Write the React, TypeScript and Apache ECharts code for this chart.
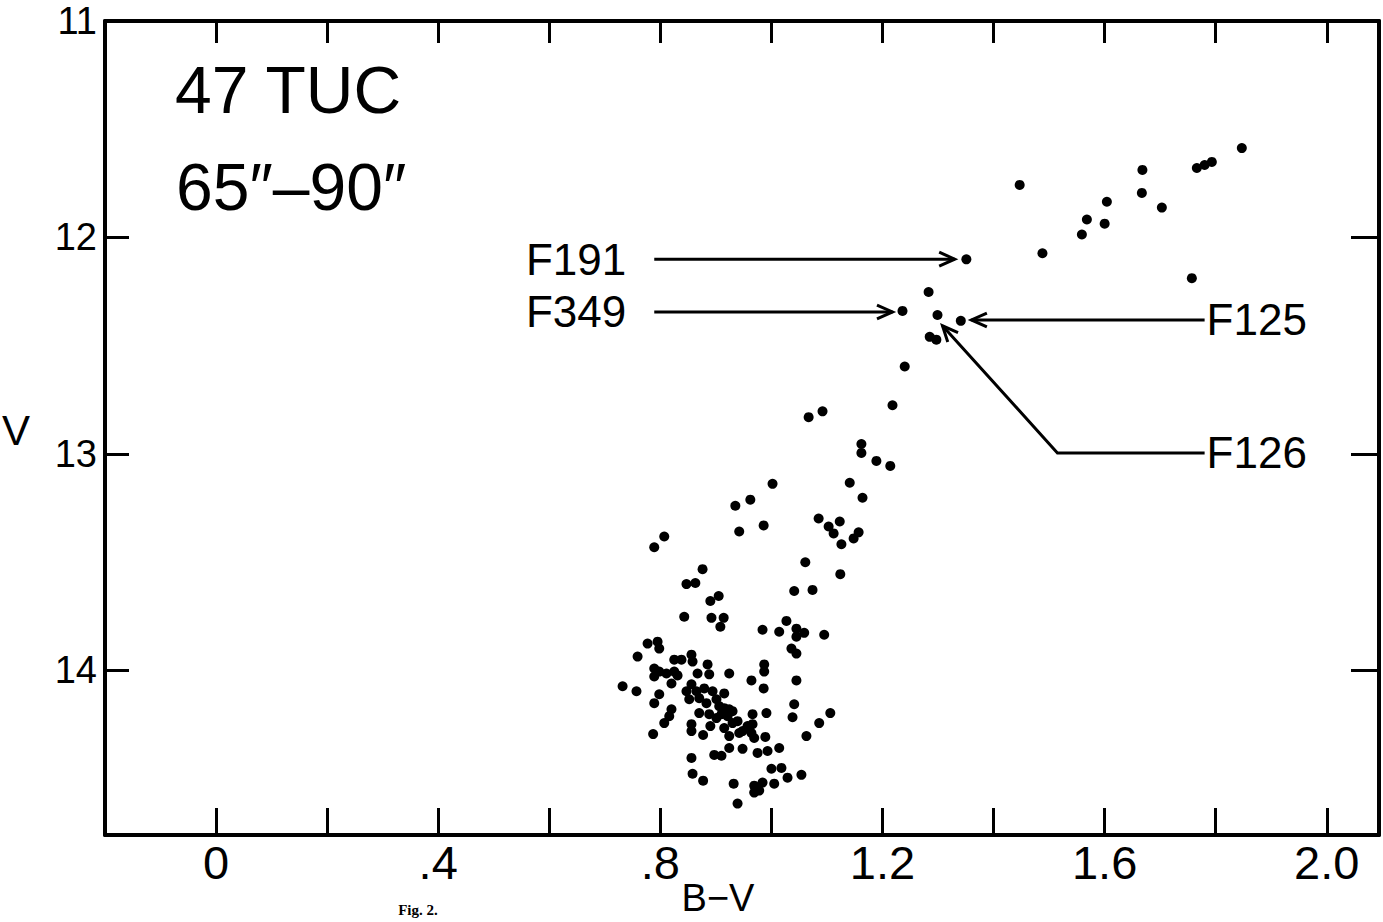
import React, { useEffect, useRef } from "react";
import * as echarts from "echarts";

// B-V colour index of each star
const bv: number[] = [
  1.847, 1.793, 1.78, 1.766, 1.668, 1.447, 1.667, 1.604, 1.703, 1.568,
  1.6, 1.559, 1.488, 1.351, 1.757, 1.283, 1.236, 1.299, 1.341, 1.285,
  1.297, 1.24, 1.218, 1.162, 1.162, 1.189, 1.214, 1.067, 1.092, 1.141,
  1.002, 1.164, 0.962, 0.935, 0.942, 0.986, 1.085, 1.123, 1.103, 1.112,
  1.126, 1.148, 1.157, 0.807, 0.789, 1.061, 1.124, 0.876, 0.847, 0.863,
  0.905, 0.89, 1.041, 1.074, 0.843, 0.892, 0.914, 0.908, 1.027, 0.984,
  1.014, 1.045, 1.059, 1.045, 1.095, 1.036, 1.045, 0.777, 0.795, 0.798,
  0.759, 0.825, 0.838, 0.856, 0.858, 0.789, 0.798, 0.789, 0.811, 0.825,
  0.831, 0.82, 0.867, 0.885, 0.888, 0.924, 0.987, 0.987, 0.964, 0.986,
  1.045, 0.732, 0.757, 0.798, 0.789, 0.856, 0.847, 0.865, 0.852, 0.87,
  0.879, 0.883, 0.894, 0.901, 0.915, 0.906, 0.915, 0.924, 0.82, 0.816,
  0.87, 0.888, 0.901, 0.91, 0.921, 0.93, 1.041, 0.966, 0.991, 1.038,
  1.106, 1.086, 1.063, 0.787, 0.807, 0.856, 0.856, 0.877, 0.89, 0.915,
  0.93, 0.939, 0.924, 0.948, 0.957, 0.969, 0.989, 0.856, 0.897, 0.91,
  0.924, 0.948, 0.975, 0.993, 1.014, 0.858, 0.877, 0.932, 0.969, 0.969,
  0.984, 0.978, 1.005, 1.0, 1.018, 1.029, 1.054, 0.939, 0.942, 0.964,
  0.966,
];

// V magnitude of each star
const vmag: number[] = [
  11.587, 11.651, 11.665, 11.679, 11.688, 11.757, 11.794, 11.835, 11.862, 11.917,
  11.936, 11.986, 12.073, 12.101, 12.188, 12.252, 12.339, 12.358, 12.385, 12.459,
  12.472, 12.596, 12.775, 12.954, 12.995, 13.032, 13.055, 12.83, 12.803, 13.133,
  13.138, 13.202, 13.211, 13.239, 13.358, 13.33, 13.298, 13.312, 13.335, 13.367,
  13.417, 13.39, 13.362, 13.381, 13.431, 13.5, 13.555, 13.532, 13.601, 13.596,
  13.656, 13.679, 13.633, 13.628, 13.752, 13.757, 13.757, 13.798, 13.771, 13.812,
  13.821, 13.807, 13.826, 13.844, 13.835, 13.899, 13.922, 13.876, 13.867, 13.899,
  13.936, 13.95, 13.95, 13.927, 13.959, 13.991, 14.005, 14.028, 14.014, 14.005,
  14.023, 14.06, 14.014, 13.972, 14.018, 14.014, 13.972, 14.005, 14.046, 14.083,
  14.046, 14.073, 14.096, 14.11, 14.151, 14.064, 14.096, 14.096, 14.133, 14.128,
  14.083, 14.151, 14.096, 14.133, 14.106, 14.165, 14.174, 14.179, 14.179, 14.211,
  14.197, 14.202, 14.22, 14.202, 14.211, 14.188, 14.156, 14.202, 14.197, 14.216,
  14.197, 14.243, 14.303, 14.294, 14.243, 14.248, 14.28, 14.298, 14.257, 14.266,
  14.243, 14.234, 14.303, 14.28, 14.257, 14.312, 14.307, 14.404, 14.39, 14.394,
  14.358, 14.362, 14.381, 14.372, 14.358, 14.477, 14.509, 14.523, 14.532, 14.564,
  14.518, 14.555, 14.523, 14.454, 14.45, 14.495, 14.482, 14.615, 14.289, 14.289,
  14.248,
];

const xTickValues: number[] = [0, 0.4, 0.8, 1.2, 1.6, 2.0];
const xTickLabels: string[] = ["0", ".4", ".8", "1.2", "1.6", "2.0"];
const yTickValues: number[] = [11, 12, 13, 14];
const yTickLabels: string[] = ["11", "12", "13", "14"];

// annotation arrows: path in data coordinates (last point = arrow tip)
const annLabels: string[] = ["F191", "F349", "F125", "F126"];
const annAlign: string[] = ["right", "right", "left", "left"];
const annPaths: number[][][] = [
  [[0.789, 12.1], [1.33, 12.1]],
  [[0.789, 12.344], [1.218, 12.344]],
  [[1.78, 12.381], [1.36, 12.381]],
  [[1.78, 12.995], [1.515, 12.995], [1.308, 12.408]],
];

const FONT = "Liberation Sans";

export default function App() {
  const ref = useRef<HTMLDivElement>(null);
  useEffect(() => {
    if (!ref.current) return;
    const chart = echarts.init(ref.current, null, { renderer: "svg" });
    const points = bv.map((x, i) => [x, vmag[i]]);
    const axisLine = { show: true, onZero: false, lineStyle: { color: "#000", width: 4 } };
    const option: any = {
      animation: false,
      backgroundColor: "#fff",
      grid: { left: 105, right: 4, top: 21, bottom: 87, containLabel: false },
      xAxis: [
        {
          type: "value",
          position: "bottom",
          min: -0.2,
          max: 2.094,
          interval: 0.2,
          axisLine,
          axisTick: { show: true, inside: true, length: 27, lineStyle: { color: "#000", width: 3 } },
          axisLabel: {
            color: "#000",
            fontSize: 47,
            fontFamily: FONT,
            margin: 4,
            formatter: (v: number) => {
              const i = xTickValues.findIndex((t) => Math.abs(t - v) < 1e-6);
              return i >= 0 ? xTickLabels[i] : "";
            },
          },
          splitLine: { show: false },
        },
        {
          type: "value",
          position: "top",
          min: -0.2,
          max: 2.094,
          interval: 0.2,
          axisLine,
          axisTick: { show: true, inside: true, length: 22, lineStyle: { color: "#000", width: 3 } },
          axisLabel: { show: false },
          splitLine: { show: false },
        },
      ],
      yAxis: [
        {
          type: "value",
          position: "left",
          inverse: true,
          min: 11,
          max: 14.76,
          interval: 1,
          axisLine,
          axisTick: { show: true, inside: true, length: 24, lineStyle: { color: "#000", width: 3 } },
          axisLabel: {
            color: "#000",
            fontSize: 38,
            lineHeight: 34,
            fontFamily: FONT,
            margin: 8,
            formatter: (v: number) => {
              const i = yTickValues.findIndex((t) => Math.abs(t - v) < 1e-6);
              return i >= 0 ? yTickLabels[i] : "";
            },
          },
          splitLine: { show: false },
        },
        {
          type: "value",
          position: "right",
          inverse: true,
          min: 11,
          max: 14.76,
          interval: 1,
          axisLine,
          axisTick: { show: true, inside: true, length: 28, lineStyle: { color: "#000", width: 3 } },
          axisLabel: { show: false },
          splitLine: { show: false },
        },
      ],
      series: [
        {
          type: "scatter",
          xAxisIndex: 0,
          yAxisIndex: 0,
          data: points,
          symbol: "circle",
          symbolSize: 10,
          itemStyle: { color: "#000", opacity: 1 },
        },
      ],
    };
    chart.setOption(option);

    const toPx = (p: number[]) => chart.convertToPixel({ xAxisIndex: 0, yAxisIndex: 0 }, p) as number[];
    const txt = (text: string, x: number, y: number, size: number, align: string, extra: any = {}) => ({
      type: "text",
      x,
      y,
      silent: true,
      style: {
        text,
        fill: "#000",
        fontSize: size,
        fontFamily: FONT,
        align,
        textAlign: align,
        verticalAlign: "middle",
        textVerticalAlign: "middle",
        ...extra,
      },
    });
    const graphics: any[] = [
      txt("47 TUC", 175, 90, 66, "left"),
      txt("65\u2033\u201390\u2033", 176, 187, 66, "left"),
      txt("V", 16, 430, 42, "center"),
      txt("B\u2212V", 718, 898, 38, "center"),
      {
        type: "text",
        x: 418,
        y: 910,
        silent: true,
        style: {
          text: "Fig. 2.",
          fill: "#000",
          fontSize: 15,
          fontWeight: "bold",
          fontFamily: "Liberation Serif",
          align: "center",
          textAlign: "center",
          verticalAlign: "middle",
          textVerticalAlign: "middle",
        },
      },
    ];
    annPaths.forEach((path, k) => {
      const pts = path.map(toPx);
      graphics.push({
        type: "polyline",
        silent: true,
        shape: { points: pts },
        style: { stroke: "#000", lineWidth: 3, fill: null },
      });
      const [tx, ty] = pts[pts.length - 1];
      const [px, py] = pts[pts.length - 2];
      const d = Math.hypot(tx - px, ty - py);
      const ux = (tx - px) / d;
      const uy = (ty - py) / d;
      const L = 17;
      const rot = (a: number) => [ux * Math.cos(a) - uy * Math.sin(a), ux * Math.sin(a) + uy * Math.cos(a)];
      const r1 = rot(0.42);
      const r2 = rot(-0.42);
      graphics.push({
        type: "polyline",
        silent: true,
        shape: {
          points: [
            [tx - L * r1[0], ty - L * r1[1]],
            [tx, ty],
            [tx - L * r2[0], ty - L * r2[1]],
          ],
        },
        style: { stroke: "#000", lineWidth: 3, fill: null },
      });
      const [sx, sy] = pts[0];
      const align = annAlign[k];
      graphics.push(txt(annLabels[k], align === "right" ? sx - 28 : sx + 2, sy, 44, align));
    });
    chart.setOption({ graphic: graphics });

    return () => chart.dispose();
  }, []);
  return (
    <div
      ref={ref}
      style={{ position: "absolute", left: 0, top: 0, width: 1383, height: 922, background: "#fff" }}
    />
  );
}
